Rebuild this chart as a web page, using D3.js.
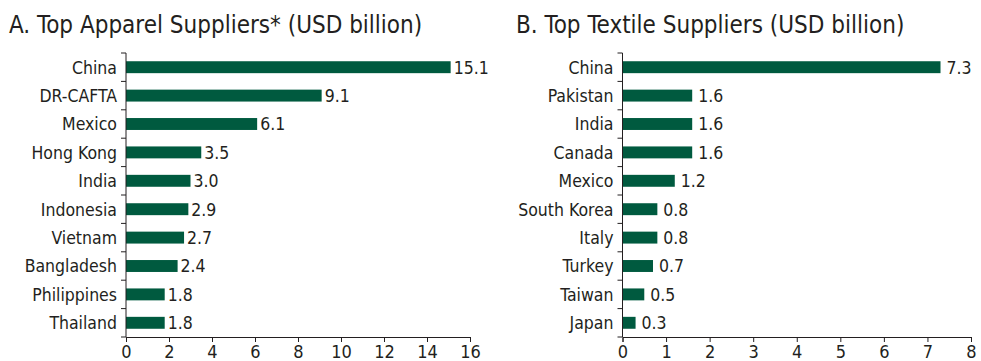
<!DOCTYPE html>
<html>
<head>
<meta charset="utf-8">
<script src="https://cdn.jsdelivr.net/npm/d3@7"></script>
<style>
  html, body { margin: 0; padding: 0; background: #fff; }
  svg text { font-family: "DejaVu Sans Condensed", "DejaVu Sans", sans-serif; fill: #231f20; }
</style>
</head>
<body>
<svg id="chart" width="981" height="361"></svg>
<script>
// Panel A: apparel suppliers
const apparelCountries = ["China", "DR-CAFTA", "Mexico", "Hong Kong", "India", "Indonesia", "Vietnam", "Bangladesh", "Philippines", "Thailand"];
const apparelValues = [15.1, 9.1, 6.1, 3.5, 3.0, 2.9, 2.7, 2.4, 1.8, 1.8];
const apparelTicks = [0, 2, 4, 6, 8, 10, 12, 14, 16];

// Panel B: textile suppliers
const textileCountries = ["China", "Pakistan", "India", "Canada", "Mexico", "South Korea", "Italy", "Turkey", "Taiwan", "Japan"];
const textileValues = [7.3, 1.6, 1.6, 1.6, 1.2, 0.8, 0.8, 0.7, 0.5, 0.3];
const textileTicks = [0, 1, 2, 3, 4, 5, 6, 7, 8];

const titles = ["A. Top Apparel Suppliers* (USD billion)", "B. Top Textile Suppliers (USD billion)"];

const svg = d3.select("#chart");
const barColor = "#005a3f";
const axisColor = "#231f20";

function drawPanel(opts) {
  const { title, titleX, x0, x1, top, bottom, cats, vals, ticks, labelGap } = opts;
  const g = svg.append("g");

  g.append("text")
    .attr("x", titleX).attr("y", 33)
    .attr("font-size", 24)
    .text(title);

  const x = d3.scaleLinear().domain([ticks[0], ticks[ticks.length - 1]]).range([x0, x1]);
  const y = d3.scaleBand().domain(cats).range([top, bottom]).paddingInner(0.58).paddingOuter(0.29);

  // bars
  g.selectAll("rect.bar").data(cats).join("rect")
    .attr("class", "bar")
    .attr("x", x(0))
    .attr("y", d => y(d))
    .attr("width", (d, i) => x(vals[i]) - x(0))
    .attr("height", y.bandwidth())
    .attr("fill", barColor);

  // value labels
  g.selectAll("text.val").data(cats).join("text")
    .attr("class", "val")
    .attr("x", (d, i) => x(vals[i]) + labelGap)
    .attr("y", d => y(d) + y.bandwidth() / 2)
    .attr("dy", "0.36em")
    .attr("font-size", 17.5)
    .text((d, i) => d3.format(".1f")(vals[i]));

  // category labels
  g.selectAll("text.cat").data(cats).join("text")
    .attr("class", "cat")
    .attr("x", x0 - 9)
    .attr("y", d => y(d) + y.bandwidth() / 2)
    .attr("dy", "0.36em")
    .attr("text-anchor", "end")
    .attr("font-size", 17.5)
    .text(d => d);

  // vertical axis with ticks between categories
  const bounds = d3.range(cats.length + 1).map(i => top + i * (bottom - top) / cats.length);
  g.append("line")
    .attr("x1", x0).attr("x2", x0)
    .attr("y1", top).attr("y2", bottom)
    .attr("stroke", axisColor).attr("stroke-width", 1);
  g.selectAll("line.ytick").data(bounds).join("line")
    .attr("class", "ytick")
    .attr("x1", x0 - 5).attr("x2", x0)
    .attr("y1", d => d).attr("y2", d => d)
    .attr("stroke", axisColor);

  // horizontal axis
  const xAxis = d3.axisBottom(x).tickValues(ticks).tickSize(5).tickPadding(3).tickFormat(d3.format("d"));
  const ax = g.append("g").attr("transform", `translate(0,${bottom})`).call(xAxis);
  ax.select(".domain").attr("stroke", axisColor);
  ax.selectAll(".tick line").attr("stroke", axisColor);
  ax.selectAll(".tick text").attr("font-size", 18).attr("font-family", null).attr("fill", axisColor);
}

drawPanel({
  title: titles[0], titleX: 9, x0: 126, x1: 470, top: 53, bottom: 337,
  cats: apparelCountries, vals: apparelValues, ticks: apparelTicks, labelGap: 3
});
drawPanel({
  title: titles[1], titleX: 516, x0: 622.5, x1: 971, top: 53, bottom: 337,
  cats: textileCountries, vals: textileValues, ticks: textileTicks, labelGap: 6
});
</script>
</body>
</html>
